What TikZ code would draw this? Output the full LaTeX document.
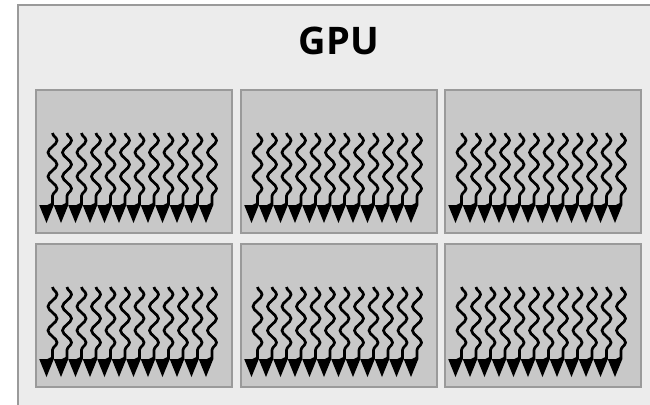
\documentclass[tikz,border=0pt]{standalone}
\usepackage{fontspec}
\setmainfont{Open Sans}
\usetikzlibrary{decorations.pathmorphing}
\definecolor{gpufill}{HTML}{ECECEC}
\definecolor{smfill}{HTML}{C8C8C8}
\definecolor{rim}{HTML}{9A9A9A}
\tikzset{
  gpubox/.style={draw=rim, line width=2pt, fill=gpufill},
  smbox/.style={draw=rim, line width=2pt, fill=smfill, minimum width=196pt, minimum height=143pt, anchor=north west, inner sep=0pt},
  wave/.style={line width=2.7pt, black, decorate, decoration={snake, segment length=24pt, amplitude=4.5pt}},
  head/.style={fill=black, draw=none}
}
\begin{document}
\begin{tikzpicture}[x=1pt,y=-1pt]
\useasboundingbox (0,0) rectangle (650,404);
\clip (0,0) rectangle (650,404);
\fill[white] (0,0) rectangle (650,404);
% outer GPU frame, running past the right and bottom edges
\draw[gpubox] (18,5) rectangle (670,424);
\node[font=\bfseries\fontsize{38}{42}\selectfont, inner sep=0pt] (gpu) at (339,41) {GPU};
% six multiprocessor blocks, each with twelve threads
\foreach \r [count=\ri] in {89,243}{
  \foreach \c [count=\ci] in {35,240,444}{
    \node[smbox] (sm\ri\ci) at (\c,\r) {};
    \foreach \k in {0,...,11}{
      \pgfmathsetmacro{\xx}{\c+17.5+14.5*\k}
      \pgfmathsetmacro{\hx}{\c+11.5+14.5*\k}
      \draw[wave] (\xx,\r+44) -- (\xx,\r+116);
      \draw[line width=2.7pt] (\xx,\r+115) -- (\hx,\r+118);
      \fill[head] (\hx-7.3,\r+116) -- (\hx+7.3,\r+116) -- (\hx,\r+134) -- cycle;
    }
  }
}
\end{tikzpicture}
\end{document}
